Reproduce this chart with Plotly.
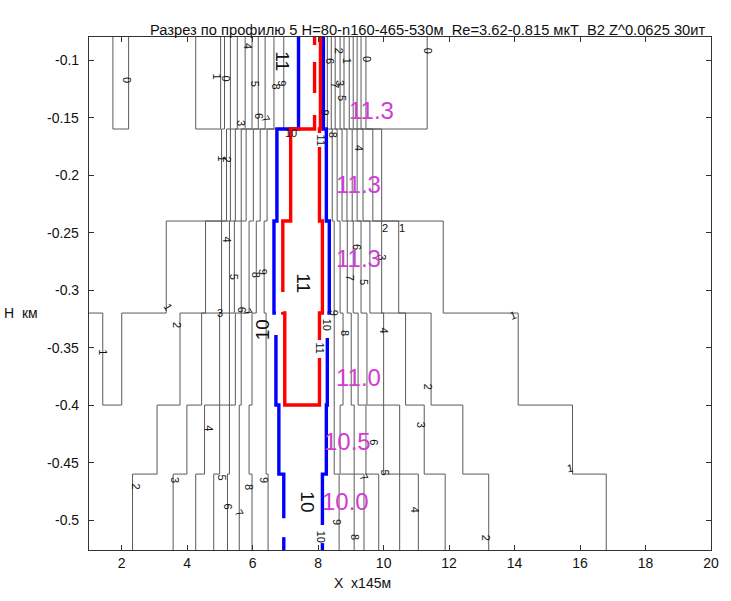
import plotly.graph_objects as go

# Depth of the layer boundaries, km (top of section ... bottom of section)
BOUNDS = [-0.08, -0.16, -0.24, -0.32, -0.40, -0.46, -0.526]

# Position (x145 m) where each isoline crosses each layer: west flank
WEST = {
    1:  [5.14, 5.05, 3.36, 2.00, None, None],
    2:  [5.32, 5.20, 4.56, 3.78, 3.08, 2.33],
    3:  [5.53, 5.32, 5.05, 4.44, 3.99, 3.57],
    4:  [5.77, 5.47, 5.29, 4.99, 4.53, 4.26],
    5:  [5.98, 5.65, 5.44, 5.29, 4.99, 4.81],
    6:  [6.17, 5.80, 5.65, 5.47, 5.29, 5.23],
    7:  [6.38, 6.02, 5.89, 5.65, 5.59, 5.59],
    8:  [6.65, 6.23, 6.11, 5.98, 5.89, 5.98],
    9:  [6.95, 6.44, 6.35, 6.41, 6.41, 6.47],
    10: [7.40, 6.74, 6.65, 6.71, 6.80, 6.95],
    11: [7.89, 7.16, 6.92, 6.98, None, None],
}
# ... and east flank
EAST = {
    1:  [9.31, 9.94, 11.82, 14.11, 15.77, 16.80],
    2:  [9.19, 9.67, 10.46, 11.45, 12.42, 13.21],
    3:  [9.07, 9.37, 9.94, 10.67, 11.24, 11.88],
    4:  [8.95, 9.19, 9.58, 10.00, 10.49, 11.06],
    5:  [8.79, 9.04, 9.31, 9.49, 10.00, 10.49],
    6:  [8.67, 8.88, 9.07, 9.22, 9.46, 9.85],
    7:  [8.52, 8.73, 8.89, 9.01, 9.10, 9.40],
    8:  [8.40, 8.58, 8.67, 8.76, 8.67, 9.10],
    9:  [8.28, 8.43, 8.49, 8.49, 8.49, 8.64],
    10: [8.16, 8.25, 8.34, 8.28, 8.25, 8.13],
    11: [8.07, 8.04, 8.13, 8.04, None, None],
}
# Zero isoline pockets in the upper layer (west edge, east edge)
ZERO_POCKETS = [(1.73, 2.21), (4.26, 5.02), (9.46, 11.33)]
# Level-1 isoline closing against the west edge in layer 4
LEVEL1_TAIL_X = [1.42, 1.42, 1.0]
LEVEL1_TAIL_Y = [-0.40, -0.32, -0.32]

# Maximum value in each layer
LAYER_MAX = [11.3, 11.3, 11.3, 11.0, 10.5, 10.0]
LAYER_MAX_POS = [(9.64, -0.1435), (9.22, -0.2078), (9.22, -0.2722),
                 (9.22, -0.3757), (8.89, -0.4313), (8.85, -0.4835)]

# Breaks left in the thick isolines where their labels sit: level, flank, layer, depth range
GAPS = [
    (11, "W", 0, -0.087, -0.1017), (11, "W", 0, -0.1287, -0.1478),
    (11, "W", 2, -0.3017, -0.3191), (11, "E", 3, -0.3435, -0.3591),
    (11, "E", 1, -0.1635, -0.1757),
    (10, "W", 3, -0.32, -0.3391), (10, "E", 3, -0.32, -0.3417),
    (10, "W", 5, -0.4983, -0.5148), (10, "E", 5, -0.5043, -0.52),
]

# Isoline labels: text, x, depth, rotation, large
CLABELS = [
    ("0", 2.18, -0.117, 90, False), ("1", 4.90, -0.114, 90, False),
    ("0", 5.20, -0.1165, 90, False), ("4", 5.86, -0.088, 90, False),
    ("5", 6.08, -0.121, 90, False), ("3", 5.62, -0.155, 90, False),
    ("6", 6.17, -0.149, 90, False), ("7", 6.41, -0.151, 60, False),
    ("8", 6.71, -0.123, 90, False), ("9", 6.89, -0.120, 90, False),
    ("11", 6.92, -0.101, 90, True),
    ("6", 8.37, -0.101, 90, False), ("2", 8.64, -0.092, 90, False),
    ("1", 8.89, -0.101, 90, False), ("0", 9.49, -0.099, 90, False),
    ("7", 8.52, -0.122, 90, False), ("3", 8.67, -0.120, 90, False),
    ("5", 8.73, -0.133, 90, False), ("0", 11.36, -0.092, 90, False),
    ("9", 8.22, -0.146, 90, False), ("10", 7.16, -0.1635, 0, False),
    ("11", 8.07, -0.1696, 90, False), ("8", 8.46, -0.1652, 90, False),
    ("1", 5.05, -0.1852, 90, False), ("2", 5.20, -0.187, 90, False),
    ("4", 9.25, -0.1765, 90, False),
    ("4", 5.20, -0.2565, 90, False), ("5", 5.44, -0.2887, 90, False),
    ("8", 6.11, -0.287, 90, False), ("9", 6.32, -0.2843, 90, False),
    ("6", 5.68, -0.3174, 90, False), ("7", 5.86, -0.3191, 60, False),
    ("1", 3.42, -0.3148, 60, False), ("11", 7.56, -0.2939, 90, True),
    ("6", 9.19, -0.2626, 90, False), ("7", 8.98, -0.2896, 90, False),
    ("5", 9.40, -0.293, 90, False), ("3", 9.94, -0.2713, 90, False),
    ("2", 10.03, -0.2461, 0, False), ("1", 10.55, -0.2461, 0, False),
    ("1", 1.42, -0.3539, 90, False), ("2", 3.69, -0.3304, 90, False),
    ("3", 4.99, -0.32, 0, False), ("10", 6.29, -0.3348, -90, True),
    ("9", 8.49, -0.32, 90, False), ("10", 8.28, -0.3304, 90, False),
    ("8", 8.82, -0.3374, 90, False), ("11", 8.07, -0.3504, 90, False),
    ("4", 10.00, -0.3348, 90, False), ("2", 11.36, -0.3843, 90, False),
    ("1", 13.96, -0.3217, -20, False),
    ("4", 4.66, -0.42, 90, False), ("6", 9.70, -0.4322, 90, False),
    ("3", 11.15, -0.4174, 90, False), ("7", 9.40, -0.4626, 60, False),
    ("5", 10.03, -0.4583, 90, False), ("1", 15.68, -0.4548, -10, False),
    ("2", 2.42, -0.4713, 90, False), ("3", 3.63, -0.4652, 90, False),
    ("5", 5.05, -0.4626, 90, False), ("6", 5.23, -0.4887, 90, False),
    ("7", 5.59, -0.4939, 60, False), ("8", 5.89, -0.4713, 90, False),
    ("9", 6.35, -0.4652, 90, False), ("10", 7.68, -0.4843, 90, True),
    ("9", 8.58, -0.5017, 90, False), ("8", 9.13, -0.5148, 90, False),
    ("10", 8.07, -0.5148, 90, False), ("4", 10.97, -0.4913, 90, False),
    ("2", 13.11, -0.5157, 90, False),
]

X_TICKS = [2, 4, 6, 8, 10, 12, 14, 16, 18, 20]
Y_TICKS = [-0.5, -0.45, -0.4, -0.35, -0.3, -0.25, -0.2, -0.15, -0.1]
Y_TICK_TEXT = ["-0.5", "-0.45", "-0.4", "-0.35", "-0.3", "-0.25", "-0.2", "-0.15", "-0.1"]

TITLE = "Разрез по профилю 5 H=80-n160-465-530м  Re=3.62-0.815 мкТ  B2 Z^0.0625 30ит"

FONT = "Liberation Sans, Arial, sans-serif"
THIN = dict(color="#5a5a5a", width=1)
STYLE = {10: dict(color="#0000ff", width=3.4), 11: dict(color="#ff0000", width=3.4)}


def flank(level, side, xs):
    """Staircase isoline down one flank: vertical in each layer, stepping at boundaries."""
    gx, gy = [], []
    for b, x in enumerate(xs):
        if x is None:
            break
        top, bot = BOUNDS[b], BOUNDS[b + 1]
        cuts = sorted([(g0, g1) for (lv, sd, lb, g0, g1) in GAPS
                       if lv == level and sd == side and lb == b], reverse=True)
        ys = [top]
        for g0, g1 in cuts:
            ys += [g0, None, g1]
        ys.append(bot)
        for yv in ys:
            gx.append(None if yv is None else x)
            gy.append(yv)
    return gx, gy


fig = go.Figure()


def add_line(xs, ys, line):
    fig.add_trace(go.Scatter(x=xs, y=ys, mode="lines", line=line,
                             connectgaps=False, hoverinfo="skip", showlegend=False))


# zero-level pockets in the upper layer
for x0, x1 in ZERO_POCKETS:
    add_line([x0, x0, x1, x1], [BOUNDS[0], BOUNDS[1], BOUNDS[1], BOUNDS[0]], THIN)

for level in range(1, 12):
    line = STYLE.get(level, THIN)
    wx, wy = flank(level, "W", WEST[level])
    ex, ey = flank(level, "E", EAST[level])
    if WEST[level][-1] is None and EAST[level][-1] is None:
        # closed isoline: down the west flank, across, and back up the east flank
        add_line(wx + ex[::-1], wy + ey[::-1], line)
    else:
        if level == 1:
            wx += LEVEL1_TAIL_X
            wy += LEVEL1_TAIL_Y
        add_line(wx, wy, line)
        add_line(ex, ey, line)

annotations = []
for text, x, y, ang, big in CLABELS:
    annotations.append(dict(x=x, y=y, xref="x", yref="y", text=text, showarrow=False,
                            textangle=ang, font=dict(family=FONT, size=19 if big else 11,
                                                     color="#111111")))
for val, (x, y) in zip(LAYER_MAX, LAYER_MAX_POS):
    annotations.append(dict(x=x, y=y, xref="x", yref="y", text=f"{val:.1f}", showarrow=False,
                            font=dict(family=FONT, size=24, color="#d23cd2")))

# depth tick labels written with a plain hyphen, set just left of the frame
for val, txt in zip(Y_TICKS, Y_TICK_TEXT):
    annotations.append(dict(x=-0.013, y=val, xref="paper", yref="y", text=txt,
                            showarrow=False, xanchor="right",
                            font=dict(family=FONT, size=14, color="#111111")))

annotations += [
    dict(x=0.545, y=1.033, xref="paper", yref="paper", text=TITLE, showarrow=False,
         font=dict(family=FONT, size=14.7, color="#111111")),
    dict(x=-0.078, y=0.462, xref="paper", yref="paper", text="H  км", showarrow=False,
         xanchor="right", font=dict(family=FONT, size=14, color="#111111")),
    dict(x=0.439, y=-0.084, xref="paper", yref="paper", text="X  x145м", showarrow=False,
         font=dict(family=FONT, size=14, color="#111111")),
]

axis_common = dict(showgrid=False, zeroline=False, showline=True, linecolor="#333333",
                   linewidth=1, mirror="ticks", ticks="inside", ticklen=5, tickcolor="#333333",
                   tickfont=dict(family=FONT, size=14, color="#111111"))

fig.update_layout(
    width=731, height=601,
    margin=dict(l=89, r=13, t=37, b=51),
    paper_bgcolor="white", plot_bgcolor="white",
    xaxis=dict(range=[1, 20], tickvals=X_TICKS, **axis_common),
    yaxis=dict(range=[BOUNDS[-1], BOUNDS[0]], tickvals=Y_TICKS, showticklabels=False,
               **axis_common),
    annotations=annotations,
    showlegend=False,
)

fig.write_html("out.html")
